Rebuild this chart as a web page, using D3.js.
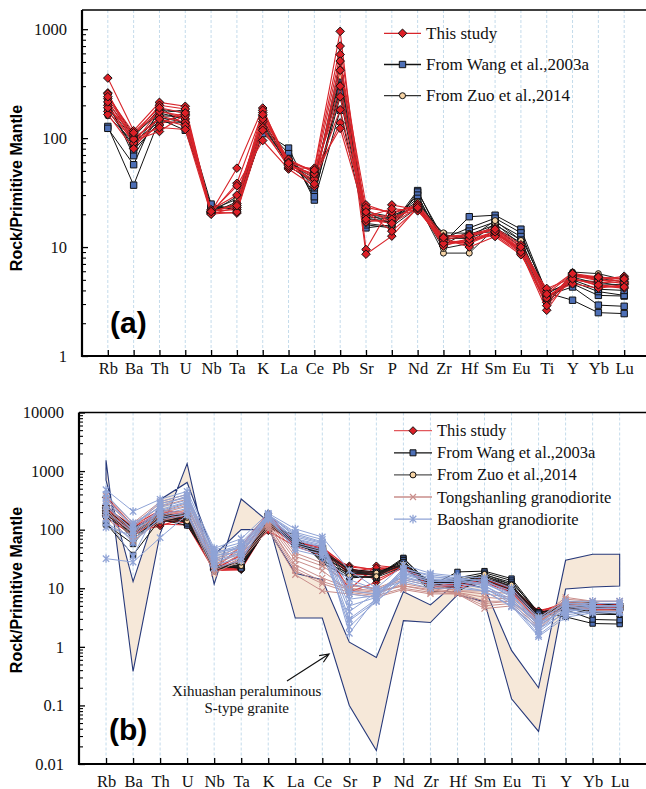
<!DOCTYPE html>
<html><head><meta charset="utf-8">
<script src="https://cdn.jsdelivr.net/npm/d3@7"></script>
<style>body{margin:0;background:#fff}svg{display:block}</style>
</head><body>
<svg id="chart" width="646" height="789"></svg>
<script>
// Spider diagrams normalised to primitive mantle
const elementsA = ["Rb","Ba","Th","U","Nb","Ta","K","La","Ce","Pb","Sr","P","Nd","Zr","Hf","Sm","Eu","Ti","Y","Yb","Lu"];
const elementsB = ["Rb","Ba","Th","U","Nb","Ta","K","La","Ce","Sr","P","Nd","Zr","Hf","Sm","Eu","Ti","Y","Yb","Lu"];

// values follow elementsA order
const thisStudy = [
  [356,117,213,196,21,53,189,53,53,955,9.5,24.4,22,11,10.8,13.5,9,2.63,5.6,5.0,5.4],
  [260,87,132,175,20.5,38.5,172,57,46,585,8.6,12.6,23,10.5,11.5,12.9,8.8,3.1,5.4,5.2,5.2],
  [176,95,115,165,21,36.5,95,52,36,510,24.4,20.3,24.5,11.8,12.5,14.5,9.6,3.5,5.0,4.7,4.8],
  [230,105,200,185,20.8,20.5,160,62,50,240,22,17,25,12.5,13,15,10.5,3.9,5.8,5.0,4.6],
  [200,90,180,150,21.5,22,142,58,44,182,20,19,22,11,11,14,9.2,4.17,5.2,4.4,4.2],
  [165,80,160,140,20.2,23,125,54,42,138,23,21,23.5,10.2,12,13,9.8,3.6,4.6,4.2,4.5],
  [255,100,150,130,22,30,150,64,48,123,19,22.5,21.5,12,10,12.5,8.5,3.3,5.5,4.9,5.0],
  [190,110,175,160,21,25,180,60,38,420,21,14,22.5,11.5,11,14,9.5,3.4,5.3,5.4,4.7],
  [215,98,125,120,20,21,118,56,47,300,17,18,24,10.8,11.8,13.8,9,2.9,5.1,4.5,4.3],
  [240,112,190,170,21.2,24,165,59,51,700,18,16.5,23,12.2,12.8,14.6,10,3.7,5.7,5.3,5.1]
];
const wang2003a = [
  [128,37,150,118,24,22,115,81,27,180,15,16,33,11,19,19.6,14.6,3.8,3.25,2.5,2.45],
  [123,57,196,128,23,23.4,110,68,31,240,16,15,32,12,15,18.4,13.5,3.6,4.3,2.93,2.86],
  [218,69,160,158,24.8,21.8,130,72,29,300,18,17,30,10.5,14,17,12.5,3.9,4.6,3.6,3.55],
  [200,78,140,140,22,24,120,65,35,260,19,18,28,11.5,13,16,11.6,3.4,4.8,3.9,3.6],
  [180,85,170,150,21,25,140,60,40,350,21,19,26,13,12,15,11,3.7,5.0,4.1,4.0]
];
const zuo2014 = [
  [246,107,170,182,21,29,150,55,40,425,18.4,17.1,25,8.8,8.8,14.9,10.1,3.0,5.6,5.15,4.8],
  [196,97,155,139,20.5,26,128,58,43,370,20,18.4,24.4,9.7,10.8,16.5,10.5,3.37,5.3,4.6,4.5],
  [160,92,142,160,21.5,24,135,56,38,500,16.5,15.4,23,13.5,13.4,13.8,9.4,2.93,5.9,5.7,5.0],
  [215,102,185,170,22,27.5,142,60,45,300,21,16,26,12,12,17.5,11.5,3.2,5.0,4.8,4.3]
];

// values follow elementsB order
const tongshanling = [
  [380,130,300,400,30,55,150,40,27,11,10,15,12,9,9,8,3.0,7,6,6],
  [300,110,250,330,25,45,130,30,20,9,8,12,10,8.5,7,6.5,2.6,6,5.5,5.5],
  [250,90,200,280,22,38,120,25,15,10,9,11,9,8.5,6,6,2.4,5.5,5,5],
  [200,75,170,220,20,33,110,20,12,8.5,7.5,10,8.5,8,5,5.5,2.2,5,4.5,4.5],
  [160,65,140,180,18,30,100,17,9,8,7,9.5,8,8,4.5,5,2.0,5.2,4.2,4.2],
  [330,120,280,360,28,50,140,35,24,12,9.5,14,11,9,8,7,2.8,6.5,6,6],
  [220,85,190,250,24,42,125,22,13,9.5,8.5,11,9.5,8.2,5.5,6,2.5,5.8,5,5]
];
const baoshan = [
  [480,205,330,450,48,70,190,103,75,20,10,25,18,16,15,10,3.2,6,6,6],
  [32,28,73,180,30,40,160,60,45,9,8,18,14,14,12,8,2.5,5,5,5],
  [300,120,250,380,40,55,175,80,60,5,7,20,15,15,13,7,2.0,4.5,5,5],
  [250,100,220,300,35,50,170,70,55,3,6.5,17,13,13,11,6,1.8,4,4.5,4.5],
  [200,90,200,260,32,45,165,65,50,2.2,6,15,12,12,10,5.5,1.6,3.5,4,4],
  [150,35,280,350,45,60,180,90,68,1.7,7,22,16,14,14,8,2.2,4.8,5.5,5.5],
  [110,80,180,230,28,38,155,55,42,12,9,16,12,12,10,6,2.6,4,4.5,4.5],
  [350,110,300,400,38,52,185,75,58,4,8.5,19,14,13,12,7.5,2.8,5.5,5.5,5.5],
  [400,130,240,320,42,48,175,85,62,6.5,7.5,21,17,15,13,9,3.0,5.2,5,5],
  [180,60,160,200,25,33,150,50,38,2.8,6,14,11,11,9,5,1.5,3.2,3.8,3.8],
  [270,95,210,290,36,42,170,68,52,8,7,18,13,14,11,6.5,2.4,4.2,4.8,4.8],
  [130,70,150,180,22,30,160,45,35,14,9.5,13,10,10,9,4.8,2.0,3.8,4,4]
];
// Xihuashan S-type granite field: two bounding patterns
const xihuashanA = [1530,0.38,85,1340,11.8,333,138,3.1,3.1,0.1,0.017,2.8,2.6,7.7,5.9,0.13,0.036,9.7,10.5,10.9];
const xihuashanB = [700,13,325,640,37,100,100,18,14,1.2,0.66,8.7,5.2,13,10,0.87,0.2,30,38,38];

const yTicksA = [1, 10, 100, 1000];
const yTicksB = [0.01, 0.1, 1, 10, 100, 1000, 10000];

const C = {
  red: "#d8252b", redFill: "#dc1f26",
  blue: "#4d6fb6", beige: "#f6d3a4",
  tong: "#c98e8b", bao: "#8fa3d6",
  field: "#f6e8d9", fieldLine: "#27397a",
  grid: "#c4dbeb"
};
const serif = "'Liberation Serif','Times New Roman',serif";
const sans = "'Liberation Sans',Arial,sans-serif";

const svg = d3.select("#chart");

const shapes = {
  diamond: r => `M0,${-r}L${r},0L0,${r}L${-r},0Z`,
  square: r => `M${-r},${-r}h${2*r}v${2*r}h${-2*r}Z`,
  circle: r => `M${r},0A${r},${r} 0 1,1 ${-r},0A${r},${r} 0 1,1 ${r},0Z`,
  cross: r => `M${-r},${-r}L${r},${r}M${-r},${r}L${r},${-r}`,
  star: r => `M${-r},${-r}L${r},${r}M${-r},${r}L${r},${-r}M0,${-r*1.3}L0,${r*1.3}`
};

function pickB(sample) {
  return elementsB.map(e => sample[elementsA.indexOf(e)]);
}

function drawPanel(cfg) {
  const g = svg.append("g");
  const x = d3.scalePoint().domain(cfg.elements).range([cfg.left, cfg.right]).padding(1);
  const y = d3.scaleLog().domain(cfg.yDomain).range([cfg.bottom, cfg.top]);

  // vertical dashed grid
  g.append("g").selectAll("line").data(cfg.elements).join("line")
    .attr("x1", d => x(d)).attr("x2", d => x(d))
    .attr("y1", cfg.top).attr("y2", cfg.bottom)
    .attr("stroke", C.grid).attr("stroke-width", 1).attr("stroke-dasharray", "3,2");

  // compositional field
  if (cfg.field) {
    const pts = cfg.field[0].map((v, i) => [x(cfg.elements[i]), y(v)])
      .concat(cfg.field[1].map((v, i) => [x(cfg.elements[i]), y(v)]).reverse());
    g.append("path").attr("d", "M" + pts.join("L") + "Z")
      .attr("fill", C.field).attr("stroke", C.fieldLine).attr("stroke-width", 1.1)
      .attr("stroke-linejoin", "miter");
  }

  const line = d3.line().x((d, i) => x(cfg.elements[i])).y(d => y(d));

  cfg.series.forEach(s => {
    const sg = g.append("g");
    sg.selectAll("path.ln").data(s.data).join("path").attr("class", "ln")
      .attr("d", line).attr("fill", "none")
      .attr("stroke", s.line).attr("stroke-width", s.lw || 1).attr("stroke-opacity", s.lo || 1);
    s.data.forEach(sample => {
      sg.append("g").selectAll("path").data(sample).join("path")
        .attr("transform", (d, i) => `translate(${x(cfg.elements[i])},${y(d)})`)
        .attr("d", shapes[s.shape](s.size))
        .attr("fill", s.fill || "none")
        .attr("stroke", s.stroke).attr("stroke-width", s.sw || 1);
    });
  });

  // axes frame
  g.append("line").attr("x1", cfg.left).attr("x2", cfg.right + 10).attr("y1", cfg.top).attr("y2", cfg.top)
    .attr("stroke", "#000").attr("stroke-width", 1.5);
  g.append("line").attr("x1", cfg.left).attr("x2", cfg.right + 10).attr("y1", cfg.bottom).attr("y2", cfg.bottom)
    .attr("stroke", "#000").attr("stroke-width", 2.2);
  g.append("line").attr("x1", cfg.left).attr("x2", cfg.left).attr("y1", cfg.top).attr("y2", cfg.bottom + 1)
    .attr("stroke", "#000").attr("stroke-width", 2.2);

  // y axis: majors with labels, minors without
  const minors = [];
  const lo = Math.floor(Math.log10(cfg.yDomain[0])), hi = Math.ceil(Math.log10(cfg.yDomain[1]));
  for (let p = lo; p < hi; p++) for (let m = 2; m <= 9; m++) {
    const v = m * Math.pow(10, p);
    if (v > cfg.yDomain[0] && v < cfg.yDomain[1]) minors.push(v);
  }
  const yAx = g.append("g").attr("transform", `translate(${cfg.left},0)`)
    .call(d3.axisLeft(y).tickValues(cfg.yTicks).tickSize(-6).tickPadding(15).tickFormat(d => String(d)));
  yAx.select(".domain").remove();
  yAx.selectAll("line").attr("stroke", "#000").attr("stroke-width", 1.3);
  yAx.selectAll("text").attr("font-family", serif).attr("font-size", 16.5).attr("fill", "#111");
  const yMin = g.append("g").attr("transform", `translate(${cfg.left},0)`)
    .call(d3.axisLeft(y).tickValues(minors).tickSize(-4).tickFormat(""));
  yMin.select(".domain").remove();
  yMin.selectAll("line").attr("stroke", "#000").attr("stroke-width", 1.1);

  // x axis
  const xAx = g.append("g").attr("transform", `translate(0,${cfg.bottom})`)
    .call(d3.axisBottom(x).tickSize(-6));
  xAx.select(".domain").remove();
  xAx.selectAll("line").attr("stroke", "#000").attr("stroke-width", 1.3);
  xAx.selectAll("text").attr("dy", null).attr("y", cfg.labelOffset)
    .attr("font-family", serif).attr("font-size", 16.5).attr("fill", "#111");

  // y title
  g.append("text").attr("transform", `translate(${cfg.titleX},${cfg.titleY}) rotate(-90)`)
    .attr("text-anchor", "middle").attr("font-family", sans).attr("font-weight", "bold")
    .attr("font-size", 16).text("Rock/Primitive Mantle");

  // panel tag
  g.append("text").attr("x", cfg.tag.x).attr("y", cfg.tag.y)
    .attr("font-family", sans).attr("font-weight", "bold").attr("font-size", 30).text(cfg.tag.text);

  // legend
  const lg = g.append("g");
  cfg.legend.items.forEach((it, i) => {
    const cy = cfg.legend.y + i * cfg.legend.dy;
    lg.append("line").attr("x1", cfg.legend.x1).attr("x2", cfg.legend.x2).attr("y1", cy).attr("y2", cy)
      .attr("stroke", it.line).attr("stroke-width", 1.3);
    lg.append("path").attr("transform", `translate(${(cfg.legend.x1 + cfg.legend.x2) / 2},${cy})`)
      .attr("d", shapes[it.shape](it.size)).attr("fill", it.fill || "none")
      .attr("stroke", it.stroke).attr("stroke-width", it.sw || 1);
    lg.append("text").attr("x", cfg.legend.tx).attr("y", cy + 5.5)
      .attr("font-family", serif).attr("font-size", cfg.legend.fs).attr("fill", "#111").text(it.label);
  });
  return { x, y, g };
}

// Panel (a)
drawPanel({
  left: 82, right: 650, top: 10, bottom: 356, yDomain: [1, 1500], yTicks: yTicksA,
  elements: elementsA, labelOffset: 18, titleX: 22, titleY: 188,
  tag: { x: 110, y: 333, text: "(a)" },
  series: [
    { data: wang2003a, line: "#111", shape: "square", size: 3.2, fill: C.blue, stroke: "#111" },
    { data: zuo2014, line: "#222", shape: "circle", size: 3, fill: C.beige, stroke: "#111" },
    { data: thisStudy, line: C.red, lw: 1.1, shape: "diamond", size: 4.3, fill: C.redFill, stroke: "#111" }
  ],
  legend: {
    x1: 384, x2: 421, tx: 426, y: 33.3, dy: 31.2, fs: 17,
    items: [
      { label: "This study", line: C.red, shape: "diamond", size: 4.3, fill: C.redFill, stroke: "#111" },
      { label: "From Wang et al.,2003a", line: "#111", shape: "square", size: 3.2, fill: C.blue, stroke: "#111" },
      { label: "From Zuo et al.,2014", line: "#333", shape: "circle", size: 3, fill: C.beige, stroke: "#111" }
    ]
  }
});

// Panel (b)
const pb = drawPanel({
  left: 79, right: 646.7, top: 412.5, bottom: 764, yDomain: [0.01, 10000], yTicks: yTicksB,
  elements: elementsB, labelOffset: 22.5, titleX: 22, titleY: 590,
  tag: { x: 109, y: 740, text: "(b)" },
  field: [xihuashanA, xihuashanB],
  series: [
    { data: thisStudy.map(pickB), line: C.red, lw: 1.1, shape: "diamond", size: 3.6, fill: C.redFill, stroke: "#111" },
    { data: wang2003a.map(pickB), line: "#111", shape: "square", size: 2.7, fill: C.blue, stroke: "#111" },
    { data: zuo2014.map(pickB), line: "#222", shape: "circle", size: 2.6, fill: C.beige, stroke: "#111" },
    { data: tongshanling, line: C.tong, shape: "cross", size: 3, stroke: C.tong, sw: 1.2 },
    { data: baoshan, line: C.bao, shape: "star", size: 3.2, stroke: C.bao, sw: 1.3 }
  ],
  legend: {
    x1: 394, x2: 432, tx: 437, y: 430.7, dy: 22.1, fs: 16.5,
    items: [
      { label: "This study", line: "#e2585c", shape: "diamond", size: 4, fill: C.redFill, stroke: "#111" },
      { label: "From Wang et al.,2003a", line: "#111", shape: "square", size: 3, fill: C.blue, stroke: "#111" },
      { label: "From Zuo et al.,2014", line: "#555", shape: "circle", size: 3, fill: C.beige, stroke: "#111" },
      { label: "Tongshanling granodiorite", line: C.tong, shape: "cross", size: 3, stroke: C.tong, sw: 1.2 },
      { label: "Baoshan granodiorite", line: C.bao, shape: "star", size: 3.3, stroke: C.bao, sw: 1.3 }
    ]
  }
});

// field annotation with arrow
const ann = pb.g.append("g");
ann.append("text").attr("x", 246.7).attr("y", 696).attr("text-anchor", "middle")
  .attr("font-family", serif).attr("font-size", 15).attr("fill", "#111").text("Xihuashan peraluminous");
ann.append("text").attr("x", 246.7).attr("y", 713).attr("text-anchor", "middle")
  .attr("font-family", serif).attr("font-size", 15).attr("fill", "#111").text("S-type granite");
const a0 = [287, 681], a1 = [329, 654];
const ang = Math.atan2(a1[1] - a0[1], a1[0] - a0[0]);
const head = s => [a1[0] - 10 * Math.cos(ang + s), a1[1] - 10 * Math.sin(ang + s)];
ann.append("path")
  .attr("d", `M${a0}L${a1}M${head(0.4)}L${a1}L${head(-0.4)}`)
  .attr("fill", "none").attr("stroke", "#111").attr("stroke-width", 1.2);
</script>
</body></html>
